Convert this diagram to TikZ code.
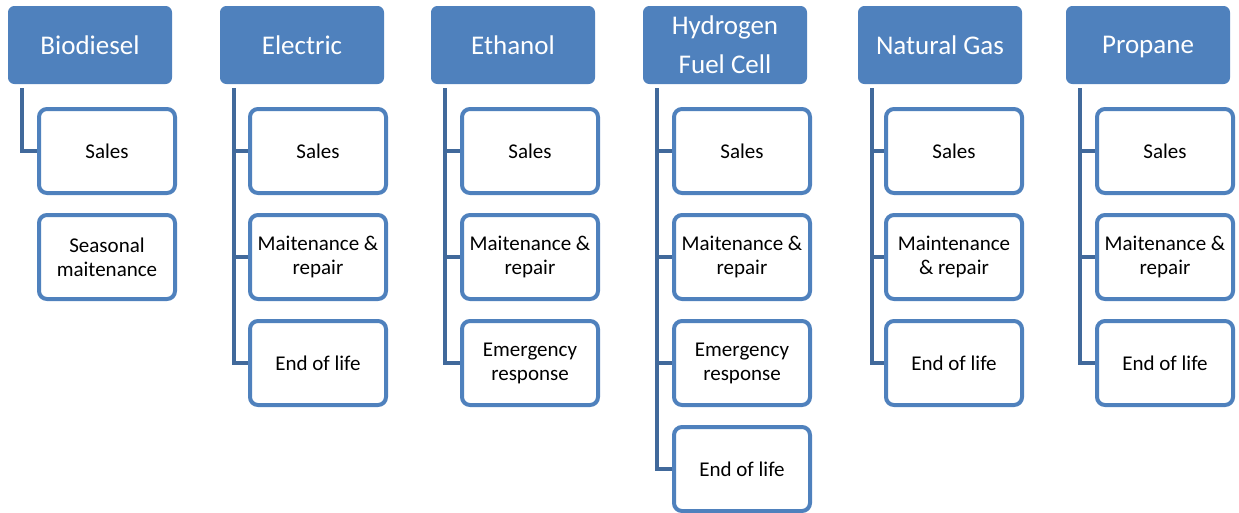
\documentclass[tikz,border=0pt]{standalone}
\usepackage{fontspec}
\setmainfont{Carlito}
\definecolor{hdr}{HTML}{4F81BD}
\definecolor{conn}{HTML}{41699B}
\tikzset{
  hdrbox/.style={fill=hdr, draw=hdr, line width=1pt, rounded corners=6pt, minimum width=163pt, minimum height=77pt, inner sep=0pt, text=white, align=center, font=\fontsize{27}{39}\selectfont},
  childbox/.style={fill=white, draw=hdr, line width=4pt, rounded corners=8pt, minimum width=136pt, minimum height=84pt, inner sep=0pt, align=center, font=\fontsize{21}{24}\selectfont},
  connline/.style={draw=conn, line width=4.5pt, line join=miter}
}
\begin{document}
\begin{tikzpicture}[x=1pt,y=-1pt]
\useasboundingbox (0,0) rectangle (1239,512);
% headers
\node[hdrbox] (h1) at (90,45) {Biodiesel};
\node[hdrbox] (h2) at (302,45) {Electric};
\node[hdrbox] (h3) at (513,45) {Ethanol};
\node[hdrbox] (h4) at (725,45) {Hydrogen\\Fuel Cell};
\node[hdrbox] (h5) at (940,45) {Natural Gas};
\node[hdrbox, text depth=0pt] (h6) at (1148,45) {Propane};
% anchors for connector tops
\foreach \i in {1,...,6}{
  \coordinate (t\i) at ([xshift=14pt,yshift=-4pt]h\i.south west);
}
% children
\node[childbox] (c11) at (107,151) {Sales};
\node[childbox] (c12) at (107,257) {Seasonal\\maitenance};
\node[childbox] (c21) at (318,151) {Sales};
\node[childbox] (c22) at (318,257) {Maitenance \&\\repair};
\node[childbox] (c23) at (318,363) {End of life};
\node[childbox] (c31) at (530,151) {Sales};
\node[childbox] (c32) at (530,257) {Maitenance \&\\repair};
\node[childbox] (c33) at (530,363) {Emergency\\response};
\node[childbox] (c41) at (742,151) {Sales};
\node[childbox] (c42) at (742,257) {Maitenance \&\\repair};
\node[childbox] (c43) at (742,363) {Emergency\\response};
\node[childbox] (c44) at (742,469) {End of life};
\node[childbox] (c51) at (954,151) {Sales};
\node[childbox] (c52) at (954,257) {Maintenance\\\& repair};
\node[childbox] (c53) at (954,363) {End of life};
\node[childbox] (c61) at (1165,151) {Sales};
\node[childbox] (c62) at (1165,257) {Maitenance \&\\repair};
\node[childbox] (c63) at (1165,363) {End of life};
% connectors
\draw[connline] (t1) |- (c11.west);
\draw[connline] (t2) |- (c23.west);
\draw[connline] (t2 |- c21.west) -- (c21.west);
\draw[connline] (t2 |- c22.west) -- (c22.west);
\draw[connline] (t3) |- (c33.west);
\draw[connline] (t3 |- c31.west) -- (c31.west);
\draw[connline] (t3 |- c32.west) -- (c32.west);
\draw[connline] (t4) |- (c44.west);
\draw[connline] (t4 |- c41.west) -- (c41.west);
\draw[connline] (t4 |- c42.west) -- (c42.west);
\draw[connline] (t4 |- c43.west) -- (c43.west);
\draw[connline] (t5) |- (c53.west);
\draw[connline] (t5 |- c51.west) -- (c51.west);
\draw[connline] (t5 |- c52.west) -- (c52.west);
\draw[connline] (t6) |- (c63.west);
\draw[connline] (t6 |- c61.west) -- (c61.west);
\draw[connline] (t6 |- c62.west) -- (c62.west);
\end{tikzpicture}
\end{document}
